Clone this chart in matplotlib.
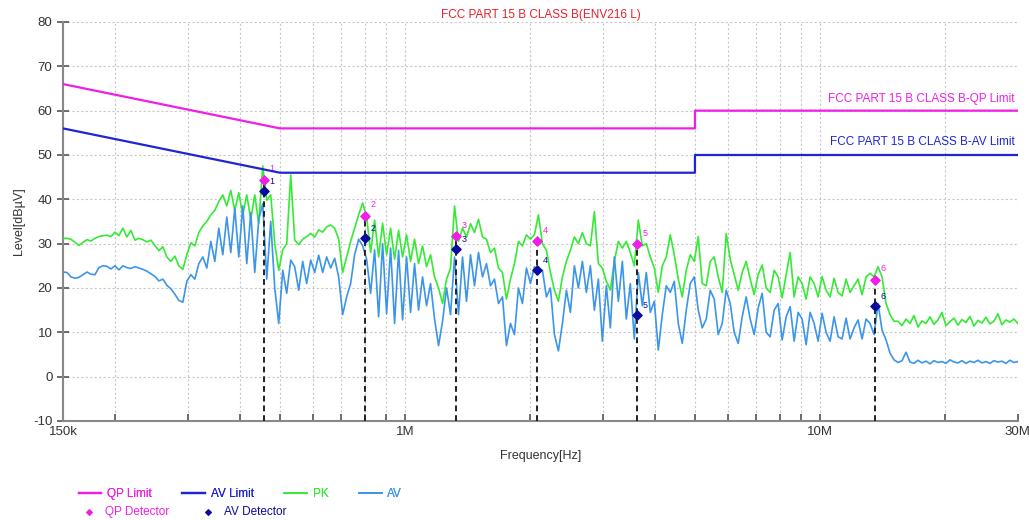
import numpy as np
import matplotlib
matplotlib.use('Agg')
import matplotlib.pyplot as plt

plt.rcParams['font.family'] = ['Liberation Sans', 'DejaVu Sans']
plt.rcParams['axes.unicode_minus'] = False

# Limites FCC (frecuencia en MHz)
qp_lim_freq = [0.15, 0.5, 5, 5, 30]
qp_lim_level = [66, 56, 56, 60, 60]
av_lim_freq = [0.15, 0.5, 5, 5, 30]
av_lim_level = [56, 46, 46, 50, 50]

# Barrido PK
pk_level = [
    31.2, 31.2, 31.0, 30.3, 29.6, 30.3, 30.9, 30.6, 31.2, 31.6,
    31.8, 31.9, 31.6, 32.6, 31.8, 33.5, 31.5, 33.0, 30.8, 31.2,
    30.9, 30.4, 30.8, 29.6, 28.4, 29.3, 27.0, 26.0, 27.2, 25.0,
    24.2, 27.5, 30.2, 29.5, 32.5, 34.0, 35.0, 36.5, 37.5, 39.5,
    41.0, 38.5, 42.0, 37.5, 41.5, 36.5, 41.0, 35.5, 41.0, 34.5,
    47.5, 39.8, 41.0, 30.0, 24.0, 28.6, 30.0, 45.5, 30.8, 29.8,
    31.0, 31.6, 32.3, 31.5, 33.1, 32.6, 33.8, 34.2, 33.5, 31.0,
    23.5, 27.0, 30.5, 33.5, 36.5, 39.2, 36.0, 28.0, 35.3, 27.0,
    34.6, 27.5, 33.5, 26.5, 33.0, 27.0, 32.0, 26.0, 31.0, 25.5,
    29.5, 24.8, 27.5, 22.5, 20.0, 16.5, 22.0, 24.5, 38.5, 30.5,
    33.5, 31.5, 34.5, 32.5, 35.5, 31.5, 31.0, 28.0, 29.0, 24.5,
    23.5, 17.5, 22.0, 25.5, 30.5, 29.5, 32.0, 31.0, 32.0, 36.5,
    30.0, 28.5, 23.5, 19.5, 17.0, 22.5, 26.0, 28.5, 31.5, 30.0,
    32.5, 30.0, 29.5, 37.2, 25.5, 24.5, 21.5, 19.5, 26.0, 30.5,
    29.0, 30.5, 28.0, 25.0, 35.3, 29.5, 30.0, 27.0, 24.5, 19.0,
    25.0, 27.0, 32.0, 27.5, 22.0, 18.0, 24.0, 27.5, 26.0, 31.6,
    21.0, 20.5, 26.0, 27.0, 22.5, 19.0, 32.3, 26.5, 23.0, 19.5,
    23.5, 26.0, 22.0, 18.5, 23.0, 25.2, 20.0, 19.0, 24.0, 22.5,
    17.8, 23.0, 28.0, 18.0, 22.5, 21.0, 17.5, 22.5, 21.0, 18.0,
    22.6, 19.5, 18.0, 22.2, 19.0, 18.2, 22.0, 19.0, 20.5, 22.0,
    18.5, 22.5, 23.3, 22.5, 24.8, 22.5, 16.5, 14.0, 12.5, 12.5,
    11.5, 13.0, 12.0, 13.8, 11.2, 12.6, 12.0, 13.5, 11.8, 12.8,
    14.5, 11.5, 12.4, 13.2, 11.6, 12.9, 12.2, 13.6, 11.4, 12.7,
    12.1, 13.4, 11.9, 12.5, 14.2, 11.7, 12.8, 12.3, 13.0, 12.0,
]

# Barrido AV
av_level = [
    23.6, 23.5, 22.5, 22.2, 22.4, 23.0, 23.6, 23.1, 23.0, 24.6,
    25.0, 24.9, 24.3, 25.0, 24.1, 25.0, 24.6, 24.4, 24.8, 24.5,
    24.2, 23.8, 23.2, 22.6, 21.6, 22.0, 20.6, 19.8, 18.6, 17.2,
    16.8, 21.5, 23.0, 22.0, 25.5, 27.0, 24.5, 30.5, 26.0, 33.5,
    27.5, 36.0, 28.0, 38.0, 27.0, 38.5, 25.5, 37.0, 23.5, 35.5,
    39.0, 22.0, 35.0, 20.0, 12.0, 24.0, 18.8, 26.3, 24.8, 19.5,
    26.0, 21.0, 26.3, 23.5, 27.4, 23.5, 27.0, 24.5, 26.7, 22.5,
    14.0, 18.0, 21.0, 27.5, 31.0, 29.5, 26.5, 18.8, 28.6, 13.5,
    30.0, 14.2, 29.0, 12.0, 28.5, 12.8, 27.0, 14.5, 25.5, 15.0,
    22.5, 16.0, 21.0, 13.0, 7.0, 12.5, 20.0, 14.0, 27.0, 14.0,
    27.0, 17.0, 27.5, 20.5, 28.0, 22.5, 25.5, 20.5, 22.0, 16.5,
    18.0, 7.0, 12.0, 9.5, 20.0, 16.5, 24.5, 21.0, 24.8, 23.5,
    24.0, 18.0, 20.0, 9.5, 5.8, 12.0, 19.5, 14.5, 25.0, 20.0,
    26.0, 19.0, 25.0, 15.0, 22.0, 8.0, 20.5, 11.0, 27.0, 17.0,
    26.0, 13.0, 21.0, 8.5, 23.5, 16.0, 23.5, 14.5, 17.0, 6.0,
    14.0, 20.5, 19.0, 21.5, 12.0, 7.5, 15.0, 21.0, 22.5, 15.0,
    11.0, 13.0, 19.5, 17.5, 9.5, 12.0, 19.5, 16.5, 10.0, 7.5,
    13.5, 18.0, 13.0, 9.5, 15.5, 18.8, 10.0, 9.0, 15.0, 16.5,
    8.3, 13.5, 15.8, 8.0, 14.5, 13.0, 7.2, 14.5, 12.0, 8.0,
    14.3, 10.0, 8.0, 13.5, 9.0, 8.5, 13.2, 8.5, 11.0, 12.8,
    8.5, 13.0, 12.0, 9.5, 16.5, 10.5, 8.3, 5.3, 3.8, 3.2,
    3.6, 5.5, 3.3, 3.0, 3.7, 3.1, 3.5, 2.9, 3.6, 3.2,
    3.4, 3.0, 3.8, 3.3, 3.1, 3.6, 3.0, 3.5, 3.2, 3.7,
    3.1, 3.4, 3.0, 3.6, 3.3, 3.5, 3.0, 3.7, 3.2, 3.4,
]

# Puntos del barrido: frecuencias del analizador (log)
pk_freq = np.geomspace(0.15, 30, len(pk_level))
av_freq = np.geomspace(0.15, 30, len(av_level))

# Detectores
det_freq = [0.457, 0.801, 1.327, 2.08, 3.62, 13.58]
qp_det = [44.4, 36.3, 31.7, 30.6, 29.9, 21.9]
av_det = [41.8, 31.3, 28.9, 24.0, 14.0, 15.9]
det_labels = ['1', '2', '3', '4', '5', '6']

c_qp = '#f01ee6'
c_av = '#1f24d6'
c_pk = '#35ea35'
c_avt = '#3b95ea'
c_avd = '#0a0a9c'

fig = plt.figure(figsize=(10.29, 5.2), dpi=100)
ax = fig.add_axes([0.0612, 0.1904, 0.928, 0.7673])

ax.plot(pk_freq, pk_level, color=c_pk, lw=1.2, label='PK', zorder=3)
ax.plot(av_freq, av_level, color=c_avt, lw=1.2, label='AV', zorder=4)
ax.plot(qp_lim_freq, qp_lim_level, color=c_qp, lw=1.6, label='QP Limit', zorder=5)
ax.plot(av_lim_freq, av_lim_level, color=c_av, lw=1.6, label='AV Limit', zorder=5)

for f, q in zip(det_freq, qp_det):
    ax.plot([f, f], [-10, q], color='#222222', lw=1.4, ls=(0, (3, 2)), zorder=6)
ax.scatter(det_freq, qp_det, marker='D', s=22, color=c_qp, zorder=7, label='QP Detector')
ax.scatter(det_freq, av_det, marker='D', s=22, color=c_avd, zorder=7, label='AV Detector')
for f, q, a, t in zip(det_freq, qp_det, av_det, det_labels):
    ax.annotate(t, (f, q), xytext=(4, 6), textcoords='offset points', fontsize=6.5, color=c_qp)
    ax.annotate(t, (f, a), xytext=(4, 5), textcoords='offset points', fontsize=6.5, color=c_avd)

ax.set_xscale('log')
ax.set_xlim(0.15, 30)
ax.set_ylim(-10, 80)
ax.set_xticks([0.15, 1, 10, 30])
ax.set_xticklabels(['150k', '1M', '10M', '30M'])
ax.set_xticks([0.2, 0.3, 0.4, 0.5, 0.6, 0.7, 0.8, 0.9,
               2, 3, 4, 5, 6, 7, 8, 9, 20], minor=True)
ax.xaxis.set_minor_formatter(plt.NullFormatter())
ax.set_yticks(range(-10, 81, 10))
ax.grid(True, which='both', color='#c8c8c8', ls=(0, (2, 2)), lw=0.8)
ax.tick_params(axis='y', direction='inout', length=8, width=1.2, color='#555555',
               labelsize=9.5, labelcolor='#333333')
ax.tick_params(axis='x', which='both', direction='in', length=5, width=1.2, color='#555555',
               labelsize=9.5, labelcolor='#333333')
for s in ['top', 'right']:
    ax.spines[s].set_visible(False)
for s in ['left', 'bottom']:
    ax.spines[s].set_color('#888888')
    ax.spines[s].set_linewidth(1.5)

ax.set_title('FCC PART 15 B CLASS B(ENV216 L)', color='#e8202a', fontsize=8.5, pad=3)
ax.set_xlabel('Frequency[Hz]', fontsize=9, color='#333333', labelpad=9)
ax.set_ylabel('Level[dBµV]', fontsize=9, color='#333333', labelpad=6)

ax.text(29.5, 61.2, 'FCC PART 15 B CLASS B-QP Limit', color=c_qp, fontsize=8.5,
        ha='right', va='bottom')
ax.text(29.5, 51.5, 'FCC PART 15 B CLASS B-AV Limit', color=c_av, fontsize=8.5,
        ha='right', va='bottom')

# Leyendas
h, l = ax.get_legend_handles_labels()
lines = dict(zip(l, h))
leg1 = fig.legend([lines['QP Limit'], lines['AV Limit'], lines['PK'], lines['AV']],
                  ['QP Limit', 'AV Limit', 'PK', 'AV'], ncol=4, frameon=False,
                  loc='center left', bbox_to_anchor=(0.066, 0.050), fontsize=8.5,
                  handlelength=1.9, columnspacing=2.6, handletextpad=0.5,
                  labelcolor=[c_qp, c_av, c_pk, c_avt])
leg2 = fig.legend([lines['QP Detector'], lines['AV Detector']],
                  ['QP Detector', 'AV Detector'], ncol=2, frameon=False,
                  loc='center left', bbox_to_anchor=(0.066, 0.016), fontsize=8.5,
                  handlelength=1.7, columnspacing=2.5, handletextpad=0.5,
                  labelcolor=[c_qp, c_avd], markerscale=0.6)
fig.add_artist(leg1)

fig.savefig('out.png', dpi=100)
